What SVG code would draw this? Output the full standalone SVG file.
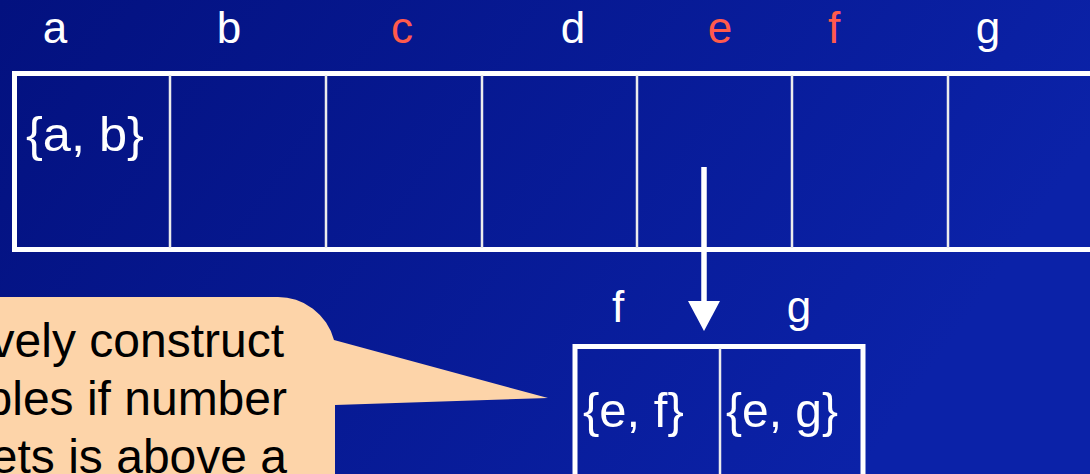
<svg xmlns="http://www.w3.org/2000/svg" width="1090" height="474" viewBox="0 0 1090 474">
<defs>
<linearGradient id="bg" x1="0" y1="0" x2="1" y2="0.3">
<stop offset="0" stop-color="#03117f"/>
<stop offset="1" stop-color="#0b22a8"/>
</linearGradient>
<marker id="ah" markerWidth="30" markerHeight="32" refX="0" refY="16" orient="auto" markerUnits="userSpaceOnUse" viewBox="0 0 30 32">
<path d="M0,0 L30,16 L0,32 Z" fill="#ffffff"/>
</marker>
<style>
.lbl{font-family:"Liberation Sans",Arial,sans-serif;font-size:44px;fill:#ffffff;text-anchor:middle}
.red{fill:#ff5a4c}
.cell{font-family:"Liberation Sans",Arial,sans-serif;font-size:49px;fill:#ffffff}
.frame{fill:none;stroke:#ffffff;stroke-width:5}
.div{stroke:#ececec;stroke-width:2.5}
.call{font-family:"Liberation Sans",Arial,sans-serif;font-size:48px;fill:#000000;text-anchor:end}
</style>
</defs>
<rect x="0" y="0" width="1090" height="474" fill="url(#bg)"/>

<g id="labels-top">
<text class="lbl" x="55" y="43">a</text>
<text class="lbl" x="229" y="43">b</text>
<text class="lbl red" x="402" y="43">c</text>
<text class="lbl" x="573" y="43">d</text>
<text class="lbl red" x="720" y="43">e</text>
<text class="lbl red" x="834" y="43">f</text>
<text class="lbl" x="988" y="43">g</text>
</g>

<g id="table-main">
<rect class="frame" x="14.5" y="73.5" width="1092" height="176"/>
<line class="div" x1="170" y1="75" x2="170" y2="248"/>
<line class="div" x1="326" y1="75" x2="326" y2="248"/>
<line class="div" x1="482" y1="75" x2="482" y2="248"/>
<line class="div" x1="637" y1="75" x2="637" y2="248"/>
<line class="div" x1="792" y1="75" x2="792" y2="248"/>
<line class="div" x1="948" y1="75" x2="948" y2="248"/>
<text class="cell" x="26" y="151" textLength="118" lengthAdjust="spacingAndGlyphs">{a, b}</text>
</g>

<g id="table-small">
<text class="lbl" x="618" y="322">f</text>
<text class="lbl" x="799" y="322">g</text>
<rect class="frame" x="575" y="346.5" width="288" height="140"/>
<line class="div" x1="720" y1="348" x2="720" y2="480"/>
<text class="cell" x="583" y="427">{e, f}</text>
<text class="cell" x="726" y="427" textLength="112" lengthAdjust="spacingAndGlyphs">{e, g}</text>
</g>

<g id="callout">
<path d="M-10,297 L277,297 A58,58 0 0 1 334,340 L548,398 L335,405 L335,480 L-10,480 Z" fill="#fdd4a9"/>
<text class="call" x="284" y="357">vely construct</text>
<text class="call" x="287" y="415">bles if number</text>
<text class="call" x="287" y="473">ets is above a</text>
</g>

<g id="connectors">
<line x1="704" y1="167" x2="704" y2="301" stroke="#ffffff" stroke-width="5.5" marker-end="url(#ah)"/>
</g>
</svg>
